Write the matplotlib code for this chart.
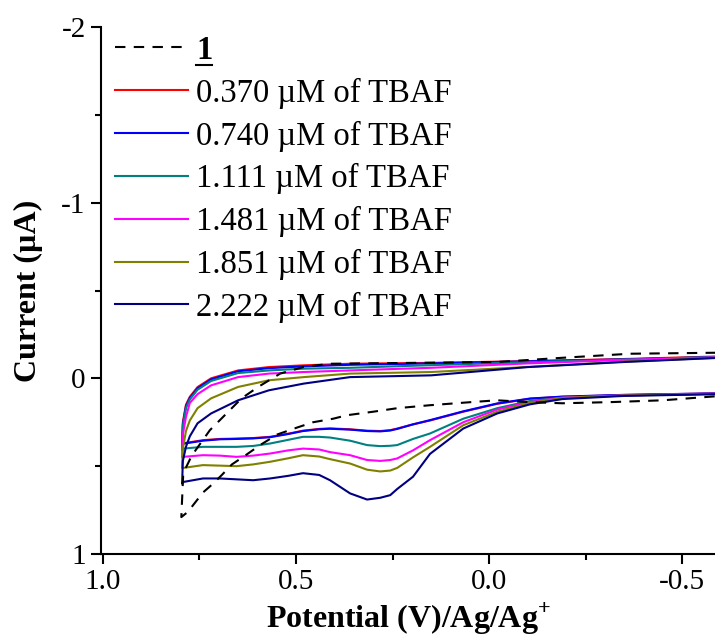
import matplotlib
matplotlib.use('Agg')
import matplotlib.pyplot as plt
from matplotlib.lines import Line2D
import numpy as np

plt.rcParams.update({'font.family': 'Liberation Serif',
                     'mathtext.fontset': 'custom',
                     'mathtext.rm': 'Liberation Serif',
                     'mathtext.bf': 'Liberation Serif:bold',
                     'font.size': 20})

# potential grids (V) for the upper (return) and lower (forward) sweeps
up_x = [0.795, 0.793, 0.785, 0.775, 0.755, 0.72, 0.65, 0.57, 0.48, 0.36, 0.15, -0.10, -0.35, -0.60]
lo_x = [0.795, 0.792, 0.741, 0.697, 0.654, 0.611, 0.567, 0.52, 0.482, 0.44, 0.412, 0.36,
        0.316, 0.282, 0.256, 0.238, 0.197, 0.153, 0.067, -0.021, -0.106, -0.19, -0.35, -0.60]

# compound 1 alone (dashed)
c1_up_x = [0.797, 0.795, 0.792, 0.77, 0.723, 0.689, 0.641, 0.598, 0.541, 0.48, 0.412, 0.2,
           -0.02, -0.19, -0.365, -0.6]
c1_up_y = [0.79, 0.69, 0.54, 0.44, 0.295, 0.22, 0.114, 0.049, -0.027, -0.065, -0.083, -0.088,
           -0.093, -0.117, -0.14, -0.146]
c1_lo_x = [0.797, 0.78, 0.741, 0.715, 0.692, 0.666, 0.632, 0.593, 0.549, 0.497, 0.456, 0.404,
           0.368, 0.30, 0.238, 0.153, 0.05, -0.02, -0.1, -0.19, -0.32, -0.45, -0.6]
c1_lo_y = [0.79, 0.76, 0.65, 0.60, 0.55, 0.49, 0.44, 0.38, 0.32, 0.28, 0.25, 0.23,
           0.21, 0.19, 0.17, 0.153, 0.136, 0.125, 0.135, 0.142, 0.135, 0.125, 0.10]

# currents (uA) with TBAF added
labels = ['0.370 \u00b5M of TBAF', '0.740 \u00b5M of TBAF', '1.111 \u00b5M of TBAF',
          '1.481 \u00b5M of TBAF', '1.851 \u00b5M of TBAF', '2.222 \u00b5M of TBAF']
colors = ['#FF0000', '#0000FF', '#008080', '#FF00FF', '#808000', '#000080']

up_037 = [0.39, 0.25, 0.15, 0.105, 0.05, 0.0, -0.045, -0.064, -0.074, -0.083, -0.088, -0.098, -0.11, -0.125]
up_074 = [0.39, 0.26, 0.16, 0.112, 0.057, 0.006, -0.04, -0.058, -0.068, -0.077, -0.085, -0.097, -0.108, -0.122]
up_111 = [0.41, 0.27, 0.17, 0.12, 0.065, 0.015, -0.03, -0.045, -0.055, -0.06, -0.075, -0.092, -0.107, -0.122]
up_148 = [0.45, 0.32, 0.22, 0.14, 0.09, 0.04, -0.007, -0.027, -0.036, -0.045, -0.06, -0.085, -0.105, -0.12]
up_185 = [0.51, 0.40, 0.30, 0.24, 0.17, 0.114, 0.049, 0.011, -0.007, -0.027, -0.036, -0.065, -0.095, -0.118]
up_222 = [0.60, 0.47, 0.39, 0.33, 0.256, 0.20, 0.125, 0.068, 0.03, -0.007, -0.017, -0.064, -0.093, -0.117]

lo_037 = [0.39, 0.37, 0.352, 0.345, 0.343, 0.34, 0.333, 0.315, 0.298, 0.288, 0.285, 0.29,
          0.298, 0.30, 0.295, 0.286, 0.262, 0.24, 0.19, 0.145, 0.116, 0.105, 0.095, 0.085]
lo_074 = [0.39, 0.372, 0.355, 0.347, 0.345, 0.342, 0.335, 0.317, 0.30, 0.29, 0.287, 0.292,
          0.30, 0.302, 0.297, 0.288, 0.262, 0.238, 0.188, 0.143, 0.115, 0.104, 0.094, 0.085]
lo_111 = [0.41, 0.40, 0.39, 0.39, 0.39, 0.385, 0.371, 0.35, 0.333, 0.333, 0.337, 0.355,
          0.38, 0.386, 0.384, 0.38, 0.345, 0.314, 0.23, 0.17, 0.129, 0.11, 0.097, 0.087]
lo_148 = [0.45, 0.447, 0.4375, 0.44, 0.447, 0.44, 0.428, 0.41, 0.40, 0.405, 0.42, 0.4375,
          0.465, 0.47, 0.465, 0.456, 0.41, 0.352, 0.25, 0.178, 0.135, 0.11, 0.097, 0.087]
lo_185 = [0.51, 0.51, 0.494, 0.497, 0.50, 0.49, 0.475, 0.455, 0.4375, 0.445, 0.46, 0.485,
          0.52, 0.53, 0.525, 0.51, 0.45, 0.39, 0.267, 0.19, 0.14, 0.112, 0.098, 0.088]
lo_222 = [0.60, 0.59, 0.57, 0.57, 0.575, 0.58, 0.57, 0.555, 0.54, 0.55, 0.58, 0.655,
          0.69, 0.68, 0.665, 0.63, 0.56, 0.43, 0.286, 0.20, 0.148, 0.118, 0.10, 0.09]

ups = [up_037, up_074, up_111, up_148, up_185, up_222]
los = [lo_037, lo_074, lo_111, lo_148, lo_185, lo_222]

fig = plt.figure(figsize=(7.15, 6.39), dpi=100, facecolor='w')
ax = fig.add_axes([101 / 715, 85 / 639, 614 / 715, 527 / 639])

handles = []
h, = ax.plot(c1_up_x[::-1] + c1_lo_x, c1_up_y[::-1] + c1_lo_y, color='k', lw=1.5,
             ls=(0, (5, 4)), zorder=5, label='1')
handles.append(h)
for lab, col, u, l in zip(labels, colors, ups, los):
    h, = ax.plot(up_x[::-1] + lo_x, u[::-1] + l, color=col, lw=1.5, label=lab)
    handles.append(h)

ax.set_xlim(1.005, -0.585)
ax.set_ylim(1.0, -2.0)
ax.set_xticks([1.0, 0.5, 0.0, -0.5])
ax.set_xticklabels(['1.0', '0.5', '0.0', '-0.5'])
ax.set_xticks([0.75, 0.25, -0.25], minor=True)
ax.set_yticks([-2, -1, 0, 1])
ax.set_yticklabels(['-2', '-1', '0', '1'])
ax.set_yticks([-1.5, -0.5, 0.5], minor=True)
for s in ['top', 'right']:
    ax.spines[s].set_visible(False)
for s in ['left', 'bottom']:
    ax.spines[s].set_linewidth(1.5)
ax.tick_params(which='major', direction='out', length=7, width=1.5, labelsize=21, pad=4)
ax.tick_params(which='minor', direction='out', length=4.5, width=1.5)

ax.set_xlabel('Potential (V)/Ag/Ag$^{\\mathbf{+}}$', fontsize=23, fontweight='bold', labelpad=4)
ax.set_ylabel('Current (\u00b5A)', fontsize=23, fontweight='bold', labelpad=13)

leg = ax.legend(handles=handles, loc='upper left', bbox_to_anchor=(0.022, 0.985),
                frameon=False, fontsize=23.5, handlelength=2.25, handletextpad=0.25,
                labelspacing=0.36, borderpad=0, borderaxespad=0)
leg.get_texts()[0].set_fontweight('bold')

# underline the compound number in the legend
fig.canvas.draw()
bb = leg.get_texts()[0].get_window_extent().transformed(fig.transFigure.inverted())
fig.add_artist(Line2D([bb.x0, bb.x1], [bb.y0 + 0.002, bb.y0 + 0.002], color='k', lw=1.5,
                      transform=fig.transFigure))

fig.savefig('out.png', dpi=100, facecolor='w')
